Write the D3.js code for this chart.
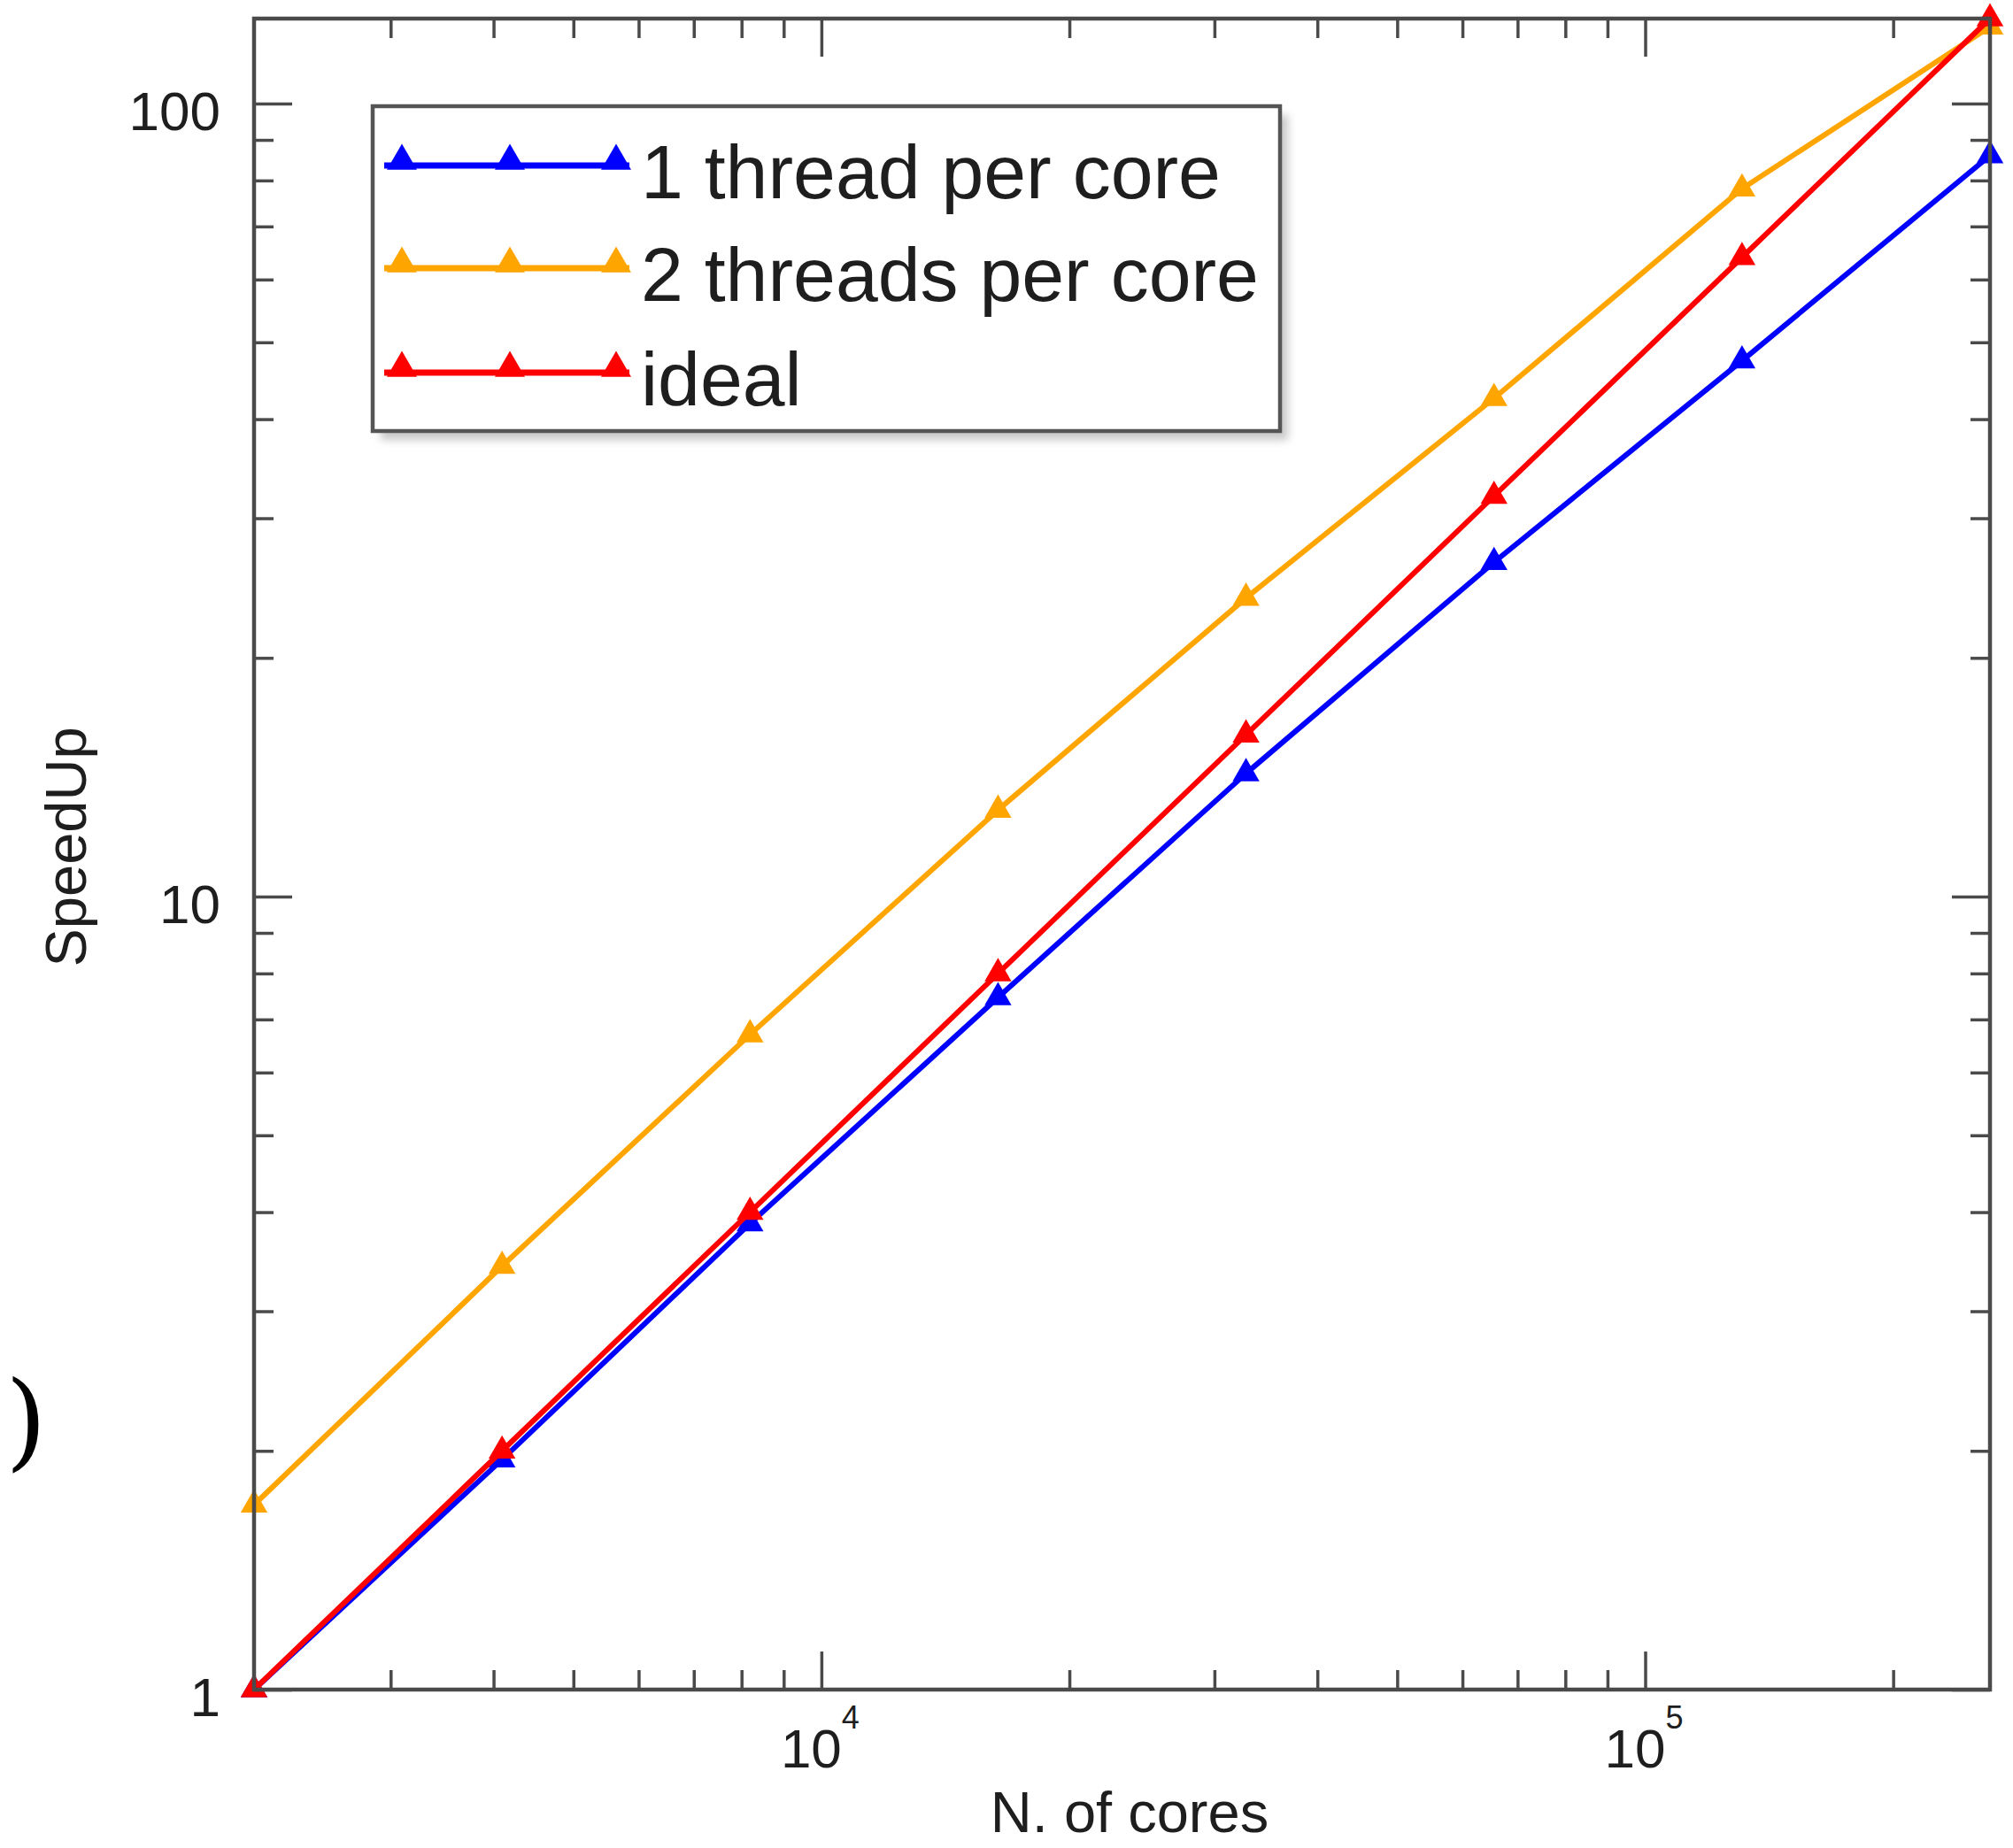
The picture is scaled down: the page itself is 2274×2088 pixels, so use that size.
<!DOCTYPE html>
<html>
<head>
<meta charset="utf-8">
<script src="https://cdn.jsdelivr.net/npm/d3@7"></script>
<style>
  html, body { margin: 0; padding: 0; background: #ffffff; }
  svg { display: block; }
</style>
</head>
<body>
<script>
// ---------------- data ----------------
const cores = [2048, 4096, 8192, 16384, 32768, 65536, 131072, 262144];
const oneThread = [1, 1.95, 3.87, 7.46, 14.3, 26.4, 47.4, 86.0];
const twoThreads = [1.71, 3.42, 6.70, 12.86, 23.8, 42.5, 78.1, 125];
const ideal = [1, 2, 4, 8, 16, 32, 64, 128];

const seriesNames = ["1 thread per core", "2 threads per core", "ideal"];
const seriesColors = ["#0000ff", "#ffa500", "#ff0000"];

const xMajorTicks = [10000, 100000];
const xMajorExponents = ["4", "5"];
const xMinorTicks = [3000, 4000, 5000, 6000, 7000, 8000, 9000,
                     20000, 30000, 40000, 50000, 60000, 70000, 80000, 90000,
                     200000];
const yMajorTicks = [1, 10, 100];
const yMajorLabels = ["1", "10", "100"];
const yMinorTicks = [2, 3, 4, 5, 6, 7, 8, 9, 20, 30, 40, 50, 60, 70, 80, 90];

const xTitle = "N. of cores";
const yTitle = "SpeedUp";

// ---------------- layout ----------------
const W = 2274, H = 2088;
const L = 287, R = 2248, T = 21, B = 1909;
const font = "'Liberation Sans', Arial, Helvetica, sans-serif";
const axisColor = "#4a4a4a";
const textColor = "#1e1e1e";

const svg = d3.select("body").append("svg")
  .attr("width", W).attr("height", H)
  .attr("viewBox", `0 0 ${W} ${H}`);

svg.append("rect").attr("width", W).attr("height", H).attr("fill", "#fff");

const x = d3.scaleLog().domain([2048, 262144]).range([L, R]);
const y = d3.scaleLog().domain([1, 128]).range([B, T]);

const series = [
  { name: seriesNames[0], color: seriesColors[0], values: oneThread },
  { name: seriesNames[1], color: seriesColors[1], values: twoThreads },
  { name: seriesNames[2], color: seriesColors[2], values: ideal }
];

// ---------------- data lines & markers ----------------
const line = d3.line().x(d => x(d[0])).y(d => y(d[1]));
const tri = d3.symbol().type(d3.symbolTriangle);

series.forEach(s => {
  const pts = cores.map((c, i) => [c, s.values[i]]);
  svg.append("path")
    .attr("d", line(pts))
    .attr("fill", "none")
    .attr("stroke", s.color)
    .attr("stroke-width", 6)
    .attr("stroke-linejoin", "round");
  svg.append("g").selectAll("path").data(pts).join("path")
    .attr("d", tri.size(400)())
    .attr("transform", d => `translate(${x(d[0])},${y(d[1])})`)
    .attr("fill", s.color);
});

// ---------------- axes (ticks inward on all sides) ----------------
function styleAxis(g) {
  g.select(".domain").remove();
  g.selectAll(".tick line").attr("stroke", axisColor).attr("stroke-width", 3.5);
  g.selectAll(".tick text").remove();
}
const majorLen = 43, minorLen = 22;

svg.append("g").attr("transform", `translate(0,${B})`)
  .call(d3.axisBottom(x).tickValues(xMajorTicks).tickSize(-majorLen).tickFormat("")).call(styleAxis);
svg.append("g").attr("transform", `translate(0,${B})`)
  .call(d3.axisBottom(x).tickValues(xMinorTicks).tickSize(-minorLen).tickFormat("")).call(styleAxis);
svg.append("g").attr("transform", `translate(0,${T})`)
  .call(d3.axisTop(x).tickValues(xMajorTicks).tickSize(-majorLen).tickFormat("")).call(styleAxis);
svg.append("g").attr("transform", `translate(0,${T})`)
  .call(d3.axisTop(x).tickValues(xMinorTicks).tickSize(-minorLen).tickFormat("")).call(styleAxis);
svg.append("g").attr("transform", `translate(${L},0)`)
  .call(d3.axisLeft(y).tickValues(yMajorTicks).tickSize(-majorLen).tickFormat("")).call(styleAxis);
svg.append("g").attr("transform", `translate(${L},0)`)
  .call(d3.axisLeft(y).tickValues(yMinorTicks).tickSize(-minorLen).tickFormat("")).call(styleAxis);
svg.append("g").attr("transform", `translate(${R},0)`)
  .call(d3.axisRight(y).tickValues(yMajorTicks).tickSize(-majorLen).tickFormat("")).call(styleAxis);
svg.append("g").attr("transform", `translate(${R},0)`)
  .call(d3.axisRight(y).tickValues(yMinorTicks).tickSize(-minorLen).tickFormat("")).call(styleAxis);

// frame
svg.append("rect")
  .attr("x", L).attr("y", T).attr("width", R - L).attr("height", B - T)
  .attr("fill", "none").attr("stroke", axisColor).attr("stroke-width", 4.5);

// ---------------- tick labels ----------------
svg.append("g").selectAll("text").data(yMajorTicks).join("text")
  .attr("x", 249)
  .attr("y", d => y(d) + 30)
  .attr("text-anchor", "end")
  .attr("font-family", font).attr("font-size", 62).attr("fill", textColor)
  .text((d, i) => yMajorLabels[i]);

const xl = svg.append("g").selectAll("text").data(xMajorTicks).join("text")
  .attr("x", d => x(d) - 46)
  .attr("y", 1997)
  .attr("font-family", font).attr("font-size", 62).attr("fill", textColor);
xl.append("tspan").text("10");
xl.append("tspan").attr("dy", -44).attr("font-size", 36).text((d, i) => xMajorExponents[i]);

// ---------------- axis titles ----------------
svg.append("text")
  .attr("x", 1276).attr("y", 2070)
  .attr("text-anchor", "middle")
  .attr("font-family", font).attr("font-size", 65).attr("fill", textColor)
  .text(xTitle);

svg.append("text")
  .attr("transform", `translate(97,957) rotate(-90)`)
  .attr("text-anchor", "middle")
  .attr("font-family", font).attr("font-size", 65).attr("fill", textColor)
  .text(yTitle);

// stray parenthesis at the left edge
svg.append("text")
  .attr("x", 6).attr("y", 1646)
  .attr("font-family", "'DejaVu Serif', 'Liberation Serif', serif")
  .attr("font-size", 120).attr("fill", "#000")
  .text(")");

// ---------------- legend ----------------
const defs = svg.append("defs");
defs.append("filter").attr("id", "shadow").attr("x", "-10%").attr("y", "-10%")
  .attr("width", "120%").attr("height", "130%")
  .append("feGaussianBlur").attr("stdDeviation", 5);

const lg = svg.append("g");
lg.append("rect")
  .attr("x", 430).attr("y", 130).attr("width", 1025).attr("height", 367)
  .attr("fill", "#c8c8c8").attr("filter", "url(#shadow)");
lg.append("rect")
  .attr("x", 421).attr("y", 120).attr("width", 1025).attr("height", 367)
  .attr("fill", "#fff").attr("stroke", "#555").attr("stroke-width", 4.5);

const rowY = [187, 303, 421];
const markX = [454, 576, 696];
series.forEach((s, i) => {
  lg.append("line")
    .attr("x1", 434).attr("x2", 711)
    .attr("y1", rowY[i]).attr("y2", rowY[i])
    .attr("stroke", s.color).attr("stroke-width", 7);
  lg.append("g").selectAll("path").data(markX).join("path")
    .attr("d", tri.size(500)())
    .attr("transform", d => `translate(${d},${rowY[i] - 5})`)
    .attr("fill", s.color);
  lg.append("text")
    .attr("x", 724).attr("y", rowY[i] + 37)
    .attr("font-family", font).attr("font-size", 86).attr("fill", textColor)
    .text(s.name);
});
</script>
</body>
</html>
